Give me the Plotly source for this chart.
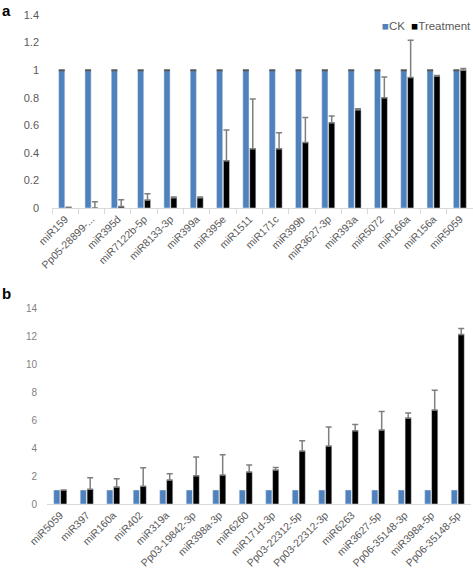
import plotly.graph_objects as go

# ---------- Panel a data ----------
cats_a = ["miR159", "Pp05-28899-...", "miR395d", "miR7122b-5p", "miR8133-3p", "miR399a",
          "miR395e", "miR1511", "miR171c", "miR399b", "miR3627-3p", "miR393a",
          "miR5072", "miR166a", "miR156a", "miR5059"]
ck_a = [1.0] * 16
ck_a_err = [0.0] * 16
trt_a = [0.005, 0.0, 0.01, 0.058, 0.075, 0.075, 0.343, 0.43, 0.43, 0.476, 0.618, 0.712,
         0.80, 0.947, 0.957, 1.0]
trt_a_err = [0.0, 0.045, 0.05, 0.045, 0.005, 0.005, 0.222, 0.36, 0.116, 0.181, 0.05, 0.008,
             0.15, 0.27, 0.005, 0.012]

# ---------- Panel b data ----------
cats_b = ["miR5059", "miR397", "miR160a", "miR402", "miR319a", "Pp03-19842-3p", "miR398a-3p",
          "miR6260", "miR171d-3p", "Pp03-22312-5p", "Pp03-22312-3p", "miR6263", "miR3627-5p",
          "Pp06-35148-3p", "miR398a-5p", "Pp06-35148-5p"]
ck_b = [1.0] * 16
trt_b = [1.0, 1.05, 1.21, 1.26, 1.71, 2.02, 2.07, 2.29, 2.43, 3.79, 4.14, 5.24, 5.29,
         6.14, 6.71, 12.1]
trt_b_err = [0.0, 0.83, 0.6, 1.33, 0.45, 1.34, 1.45, 0.5, 0.17, 0.72, 1.36, 0.43, 1.31,
             0.36, 1.41, 0.43]

BLUE = "#4F81BD"
W, H = 473, 571
FONT = "Liberation Sans, Arial, sans-serif"

def py(px):
    return 1 - px / H

fig = go.Figure()

fig.add_trace(go.Bar(x=cats_a, y=ck_a, name="CK", marker_color=BLUE,
                     error_y=dict(type="data", array=ck_a_err, color="#595959",
                                  thickness=2, width=3),
                     xaxis="x", yaxis="y"))
fig.add_trace(go.Bar(x=cats_a, y=trt_a, name="Treatment", marker_color="black",
                     error_y=dict(type="data", symmetric=False, array=trt_a_err,
                                  arrayminus=[0] * 16, color="#7f7f7f",
                                  thickness=1.5, width=3),
                     xaxis="x", yaxis="y"))
fig.add_trace(go.Bar(x=cats_b, y=ck_b, name="CK", marker_color=BLUE, showlegend=False,
                     xaxis="x2", yaxis="y2"))
fig.add_trace(go.Bar(x=cats_b, y=trt_b, name="Treatment", marker_color="black", showlegend=False,
                     error_y=dict(type="data", symmetric=False, array=trt_b_err,
                                  arrayminus=[0] * 16, color="#7f7f7f",
                                  thickness=1.5, width=3),
                     xaxis="x2", yaxis="y2"))

xcommon = dict(type="category", showgrid=False, zeroline=False, showline=True,
               linecolor="#d9d9d9", linewidth=1, tickangle=-45, automargin=False,
               tickfont=dict(size=10.5, color="#595959", family=FONT))

fig.update_layout(
    width=W, height=H,
    margin=dict(l=0, r=0, t=0, b=0),
    paper_bgcolor="white", plot_bgcolor="white",
    barmode="group", bargap=0.48, bargroupgap=0.1,
    showlegend=False,
    font=dict(family=FONT, color="#595959"),
    xaxis=dict(**xcommon, domain=[52 / W, 1.0], anchor="y",
               ticks="outside", tickson="boundaries", ticklen=5, tickcolor="#d9d9d9"),
    yaxis=dict(domain=[py(208), py(15)], range=[0, 1.4], dtick=0.2, tickformat="~g",
               showgrid=False, zeroline=False, showline=False, automargin=False,
               ticklabelstandoff=12,
               tickfont=dict(size=11, color="#595959", family=FONT), anchor="x"),
    xaxis2=dict(**xcommon, domain=[47 / W, 471 / W], anchor="y2", ticks=""),
    yaxis2=dict(domain=[py(504), py(308)], range=[0, 14], dtick=2,
                showgrid=False, zeroline=False, showline=False, automargin=False,
                ticklabelstandoff=9,
                tickfont=dict(size=10, color="#7f7f7f", family=FONT), anchor="x2"),
    annotations=[
        dict(text="<b>a</b>", x=0.0, y=1.0, xref="paper", yref="paper",
             xanchor="left", yanchor="top", showarrow=False,
             font=dict(size=15, color="black", family=FONT)),
        dict(text="<b>b</b>", x=0.0, y=py(293), xref="paper", yref="paper",
             xanchor="left", yanchor="middle", showarrow=False,
             font=dict(size=15, color="black", family=FONT)),
        dict(text="<span style='color:%s'>■</span>CK  <span style='color:black'>■</span>Treatment" % BLUE,
             x=1.0, y=py(26), xref="paper", yref="paper", xanchor="right", yanchor="middle",
             showarrow=False, font=dict(size=11.5, color="#595959", family=FONT)),
    ],
)

fig.write_html("out.html", config={"displayModeBar": False},
               post_script="document.body.style.margin='0';document.body.style.overflow='hidden';")
